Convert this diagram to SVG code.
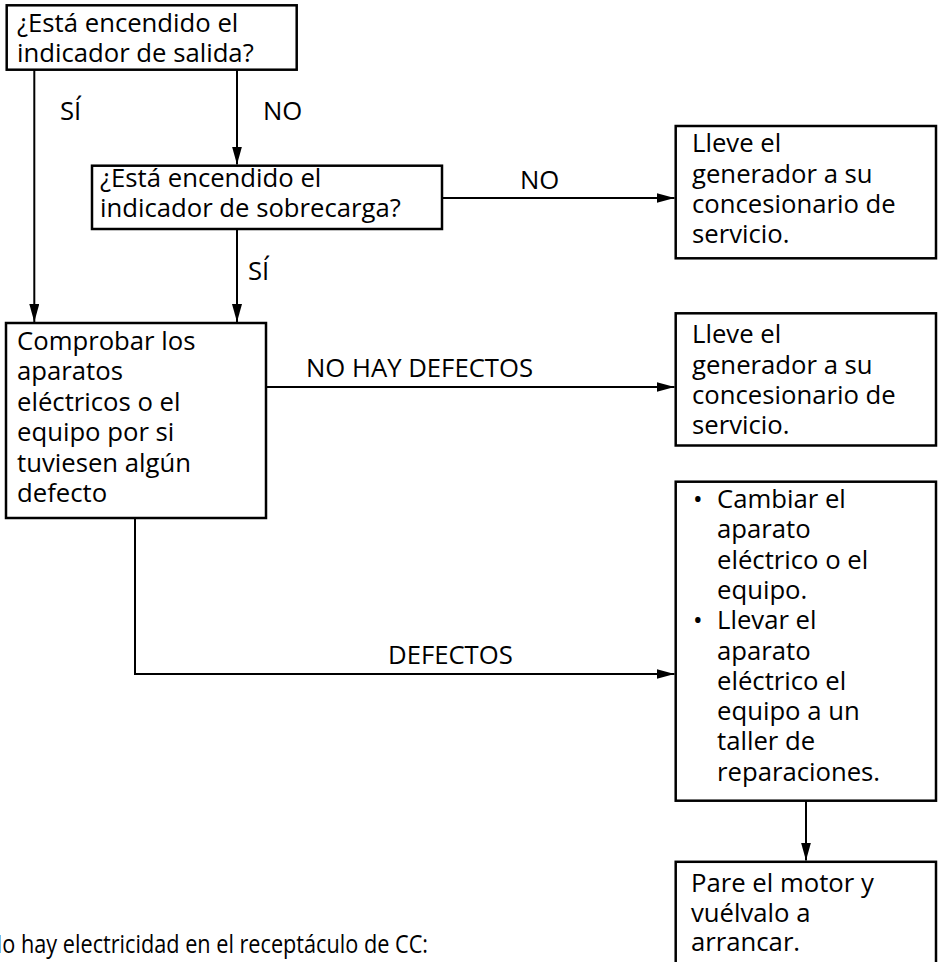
<svg xmlns="http://www.w3.org/2000/svg" width="938" height="962" viewBox="0 0 938 962">
<style>
text{font-family:"Open Sans","Noto Sans","Liberation Sans",sans-serif;font-size:25.7px;fill:#000}
.box{fill:#fff;stroke:#000;stroke-width:2.5}
.conn{fill:none;stroke:#000;stroke-width:2}
</style>
<defs>
<marker id="arr" markerUnits="userSpaceOnUse" markerWidth="18" markerHeight="10" refX="18" refY="5" orient="auto">
<path d="M0,0 L18,5 L0,10 z" fill="#000"/>
</marker>
</defs>
<rect width="938" height="962" fill="#fff"/>
<g id="connectors">
<line class="conn" x1="34.3" y1="70" x2="34.3" y2="322" marker-end="url(#arr)"/>
<line class="conn" x1="237" y1="70" x2="237" y2="164.5" marker-end="url(#arr)"/>
<line class="conn" x1="443" y1="198" x2="674.5" y2="198" marker-end="url(#arr)"/>
<line class="conn" x1="237" y1="229" x2="237" y2="322" marker-end="url(#arr)"/>
<line class="conn" x1="267" y1="387" x2="674.5" y2="387" marker-end="url(#arr)"/>
<polyline class="conn" points="135,518 135,674 674.5,674" marker-end="url(#arr)"/>
<line class="conn" x1="806" y1="801" x2="806" y2="860.5" marker-end="url(#arr)"/>
<text x="60" y="120">SÍ</text>
<text x="263" y="120">NO</text>
<text x="520" y="189">NO</text>
<text x="248" y="280">SÍ</text>
<text x="306" y="377">NO HAY DEFECTOS</text>
<text x="388" y="664">DEFECTOS</text>
</g>
<g id="q1">
<rect class="box" x="6.7" y="5.3" width="290" height="64.4"/>
<text x="17" y="32">¿Está encendido el</text>
<text x="17" y="62">indicador de salida?</text>
</g>
<g id="q2">
<rect class="box" x="92" y="165.7" width="350" height="63.3"/>
<text x="100" y="187">¿Está encendido el</text>
<text x="100" y="217">indicador de sobrecarga?</text>
</g>
<g id="check">
<rect class="box" x="6" y="323" width="260" height="195"/>
<text x="17" y="350">Comprobar los</text>
<text x="17" y="380.4">aparatos</text>
<text x="17" y="410.8">eléctricos o el</text>
<text x="17" y="441.2">equipo por si</text>
<text x="17" y="471.6">tuviesen algún</text>
<text x="17" y="502">defecto</text>
</g>
<g id="dealer1">
<rect class="box" x="675.7" y="126" width="260.3" height="132.3"/>
<text x="692" y="152">Lleve el</text>
<text x="692" y="182.5">generador a su</text>
<text x="692" y="213">concesionario de</text>
<text x="692" y="243">servicio.</text>
</g>
<g id="dealer2">
<rect class="box" x="675.7" y="313.3" width="260.3" height="132.2"/>
<text x="692" y="343">Lleve el</text>
<text x="692" y="373.5">generador a su</text>
<text x="692" y="404">concesionario de</text>
<text x="692" y="434">servicio.</text>
</g>
<g id="replace">
<rect class="box" x="675.7" y="481.7" width="260.3" height="319"/>
<text x="693" y="508">•</text>
<text x="717" y="508">Cambiar el</text>
<text x="717" y="538.3">aparato</text>
<text x="717" y="568.6">eléctrico o el</text>
<text x="717" y="598.9">equipo.</text>
<text x="693" y="629.2">•</text>
<text x="717" y="629.2">Llevar el</text>
<text x="717" y="659.5">aparato</text>
<text x="717" y="689.8">eléctrico el</text>
<text x="717" y="720.1">equipo a un</text>
<text x="717" y="750.4">taller de</text>
<text x="717" y="780.7">reparaciones.</text>
</g>
<g id="restart">
<rect class="box" x="675.7" y="861.8" width="260.3" height="120"/>
<text x="691" y="892">Pare el motor y</text>
<text x="691" y="922">vuélvalo a</text>
<text x="691" y="951">arrancar.</text>
</g>
<text x="-14" y="953" textLength="442" lengthAdjust="spacingAndGlyphs">No hay electricidad en el receptáculo de CC:</text>
</svg>
